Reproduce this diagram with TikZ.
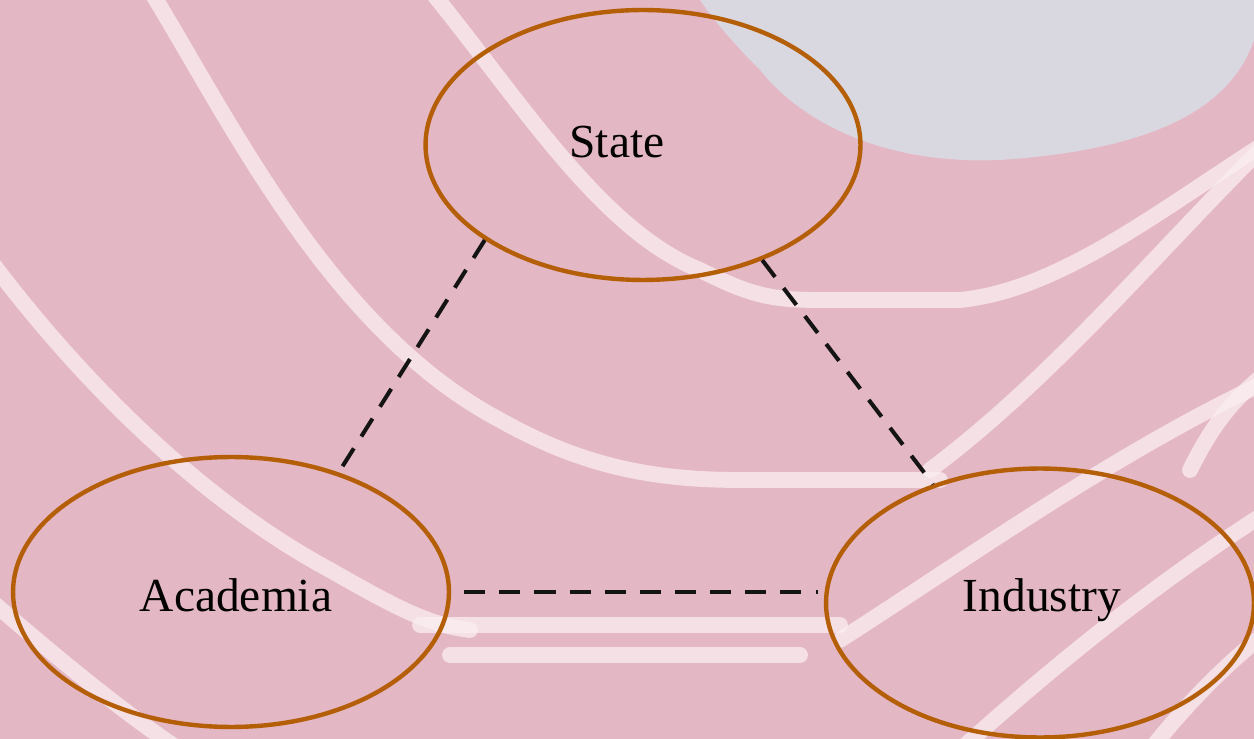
\documentclass[tikz,border=0pt]{standalone}
\usepackage{fontspec}
\setmainfont{Liberation Serif}
\usetikzlibrary{shapes.geometric}
\definecolor{bgpink}{RGB}{228,183,196}
\definecolor{stripe}{RGB}{250,238,241}
\definecolor{bluepatch}{RGB}{216,222,230}
\definecolor{ringc}{RGB}{180,94,6}
\tikzset{
  actor/.style={ellipse, draw=ringc, line width=2.5pt, inner sep=0pt},
  lbl/.style={font=\fontsize{27}{32}\selectfont, text=black, inner sep=0pt},
  link/.style={draw=black!92, line width=2.3pt, dash pattern=on 12pt off 8pt},
  band/.style={draw=stripe, line width=9pt, opacity=0.75, line cap=round, line join=round}
}
\begin{document}
\begin{tikzpicture}[x=0.02cm,y=-0.02cm]
\useasboundingbox (0,0) rectangle (1254,739);
\begin{scope}
\clip (0,0) rectangle (1254,739);
\fill[bgpink] (0,0) rectangle (1254,739);
% blue-grey patch top right
\fill[bluepatch, opacity=0.85] (700,0) -- (1254,0) -- (1254,40) .. controls (1230,110) and (1150,150) .. (1000,160) .. controls (880,165) and (800,120) .. (760,70) .. controls (730,40) and (710,15) .. (700,0) -- cycle;
% white stripes of the background
\draw[band] (150,-10) .. controls (230,120) and (330,330) .. (500,420) .. controls (580,465) and (650,480) .. (740,480) -- (940,480);
\draw[band] (430,-10) .. controls (520,100) and (600,230) .. (700,270) .. controls (750,295) and (770,300) .. (820,300) -- (960,300) .. controls (1060,290) and (1160,210) .. (1270,140);
\draw[band] (-10,260) .. controls (80,380) and (200,500) .. (330,570) .. controls (400,610) and (430,625) .. (470,630);
\draw[band] (420,625) -- (840,625);
\draw[band] (450,655) -- (800,655);
\draw[band] (-10,600) .. controls (60,660) and (120,710) .. (180,750);
\draw[band] (1260,150) .. controls (1150,260) and (1050,380) .. (930,470);
\draw[band] (840,640) .. controls (980,550) and (1120,450) .. (1270,380);
\draw[band] (960,750) .. controls (1060,660) and (1160,580) .. (1270,510);
\draw[band] (1150,750) .. controls (1190,700) and (1230,660) .. (1270,630);
\draw[band] (1190,470) .. controls (1210,430) and (1230,400) .. (1270,370);
\end{scope}
% actors
\node[actor, minimum width=8.7cm, minimum height=5.4cm] (st) at (643,145) {};
\node[actor, minimum width=8.72cm, minimum height=5.4cm] (ac) at (231,592) {};
\node[actor, minimum width=8.56cm, minimum height=5.38cm] (in) at (1040,603) {};
\node[lbl] (stl) at (617,142) {State};
\node[lbl] (acl) at (236,595) {Academia};
\node[lbl] (inl) at (1042,600) {Industry};
% links
\draw[link] (st.211.8) -- (ac.48.3);
\draw[link] (st.316.6) -- (in.132.3);
\draw[link, shorten <=0.26cm, shorten >=0.12cm] (ac.east) -- (ac.east -| in.west);
\end{tikzpicture}
\end{document}
